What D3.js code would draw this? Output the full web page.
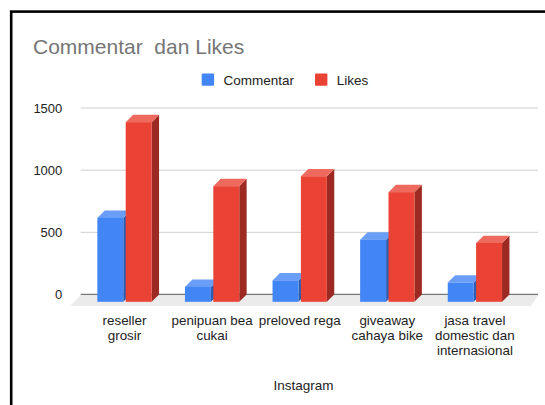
<!DOCTYPE html>
<html>
<head>
<meta charset="utf-8">
<script src="https://cdn.jsdelivr.net/npm/d3@7/dist/d3.min.js"></script>
<style>
  html, body { margin: 0; padding: 0; background: #fff; }
  svg { display: block; font-family: Arial, "Liberation Sans", sans-serif; }
</style>
</head>
<body>
<svg id="chart" width="545" height="405"></svg>
<script>
// Instagram accounts with their comment and like counts
const categories = [
  ["reseller", "grosir"],
  ["penipuan bea", "cukai"],
  ["preloved rega"],
  ["giveaway", "cahaya bike"],
  ["jasa travel", "domestic dan", "internasional"]
];
const commentar = [675, 120, 172, 500, 155];
const likes = [1445, 930, 1010, 882, 473];
const seriesNames = ["Commentar", "Likes"];
const yTicks = [0, 500, 1000, 1500];

const titleText = "Commentar  dan Likes";
const xAxisTitle = "Instagram";

const svg = d3.select("#chart");

// Layout
const plotLeft = 80.7, plotRight = 538;
const yScale = d3.scaleLinear().domain([0, 1500]).range([294.5, 108]);
const depthX = 7.4, depthY = 7.3;   // bar depth offset
const colors = {
  Commentar: { front: "#4285f4", top: "#6a9ef6", side: "#2d5db0" },
  Likes: { front: "#ea4335", top: "#ee6a5f", side: "#9c2a22" }
};

// Frame
svg.append("rect")
  .attr("x", 11.2).attr("y", 11.6)
  .attr("width", 600).attr("height", 500)
  .attr("fill", "none").attr("stroke", "#000").attr("stroke-width", 2.6);

// Title
svg.append("text")
  .attr("x", 33).attr("y", 54.3)
  .attr("fill", "#757575")
  .style("font-size", "21px")
  .style("white-space", "pre")
  .attr("xml:space", "preserve")
  .text(titleText);

// Legend
const legend = svg.append("g");
const legendItems = [
  { name: seriesNames[0], x: 201.7 },
  { name: seriesNames[1], x: 315 }
];
legendItems.forEach(it => {
  legend.append("rect")
    .attr("x", it.x).attr("y", 73.4)
    .attr("width", 12.4).attr("height", 12.4)
    .attr("rx", 1)
    .attr("fill", colors[it.name].front);
  legend.append("text")
    .attr("x", it.x + 21.8).attr("y", 84.6)
    .attr("fill", "#222")
    .style("font-size", "13.5px")
    .text(it.name);
});

// Gridlines and y tick labels
const grid = svg.append("g");
yTicks.forEach(t => {
  grid.append("line")
    .attr("x1", plotLeft).attr("x2", plotRight)
    .attr("y1", yScale(t)).attr("y2", yScale(t))
    .attr("stroke", t === 0 ? "#7a7a7a" : "#cfcfcf")
    .attr("stroke-width", t === 0 ? 1.3 : 1);
  grid.append("text")
    .attr("x", 62.3).attr("y", yScale(t))
    .attr("dy", "0.35em")
    .attr("text-anchor", "end")
    .attr("fill", "#222")
    .style("font-size", "13px")
    .text(t);
});

// Floor
const y0 = yScale(0);
svg.append("path")
  .attr("d", `M${plotLeft},${y0 + 0.7} L${plotRight},${y0 + 0.7} L${plotRight - 7},${y0 + 11.5} L${plotLeft - 10.7},${y0 + 11.5} Z`)
  .attr("fill", "#ebebeb");

// Category and series scales (front face of the bars)
const x0 = d3.scaleBand()
  .domain(d3.range(categories.length))
  .range([plotLeft, 518.7])
  .paddingInner(0.38)
  .paddingOuter(0.19);
const x1 = d3.scaleBand()
  .domain(seriesNames)
  .range([0, x0.bandwidth()])
  .paddingInner(0.085);

const rows = categories.map((c, i) => ({
  i,
  values: [
    { name: seriesNames[0], value: commentar[i] },
    { name: seriesNames[1], value: likes[i] }
  ]
}));

const bars = svg.append("g");
rows.forEach(r => {
  r.values.forEach(v => {
    const x = x0(r.i) + x1(v.name);
    const w = x1.bandwidth();
    const yTop = yScale(v.value) + depthY;
    const yBot = yScale(0) + depthY;
    const c = colors[v.name];
    const g = bars.append("g");
    // side face
    g.append("path")
      .attr("d", `M${x + w},${yTop} L${x + w + depthX},${yTop - depthY} L${x + w + depthX},${yBot - depthY} L${x + w},${yBot} Z`)
      .attr("fill", c.side);
    // top face
    g.append("path")
      .attr("d", `M${x},${yTop} L${x + w},${yTop} L${x + w + depthX},${yTop - depthY} L${x + depthX},${yTop - depthY} Z`)
      .attr("fill", c.top);
    // front face
    g.append("rect")
      .attr("x", x).attr("y", yTop)
      .attr("width", w).attr("height", yBot - yTop)
      .attr("fill", c.front);
  });
});

// Category labels
const labels = svg.append("g");
categories.forEach((lines, i) => {
  const cx = x0(i) + x0.bandwidth() / 2;
  const t = labels.append("text")
    .attr("text-anchor", "middle")
    .attr("fill", "#222")
    .style("font-size", "13.4px");
  lines.forEach((ln, k) => {
    t.append("tspan").attr("x", cx).attr("y", 325 + k * 15).text(ln);
  });
});

// Axis title
svg.append("text")
  .attr("x", 303.5).attr("y", 389.5)
  .attr("text-anchor", "middle")
  .attr("fill", "#222")
  .style("font-size", "13.5px")
  .text(xAxisTitle);
</script>
</body>
</html>
